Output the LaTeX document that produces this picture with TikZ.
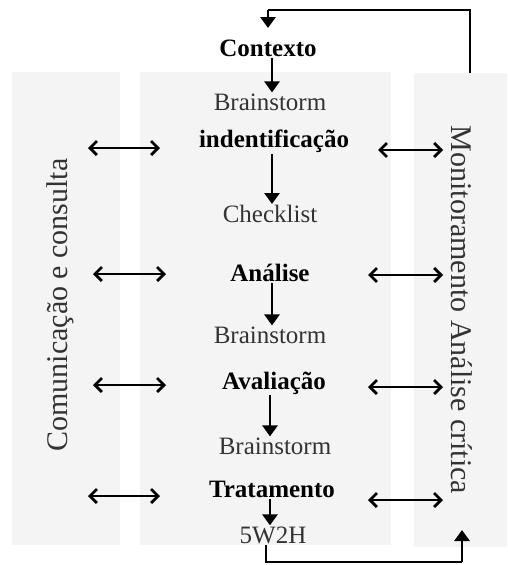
\documentclass[tikz,border=0pt]{standalone}
\usepackage{fontspec}
\setmainfont{Liberation Serif}
\usetikzlibrary{positioning,calc,arrows.meta}
\definecolor{panelgray}{HTML}{F4F4F4}
\newcommand{\stepnode}[3]{\node [stepname] (#1) at (#2) {#3}}
\newcommand{\toolnode}[3]{\node [toolname] (#1) at (#2) {#3}}

\begin{document}
\begin{tikzpicture}[x=1pt,y=-1pt,
  panel/.style={fill=panelgray, draw=none},
  stepname/.style={font=\fontsize{25}{30}\selectfont\bfseries, inner sep=1pt},
  toolname/.style={font=\fontsize{25}{30}\selectfont, text=black!80, inner sep=1pt},
  sidename/.style={font=\fontsize{30}{36}\selectfont, text=black!80, inner sep=1pt},
  down/.style={-{Triangle[length=11pt,width=15pt]}, line width=2.8pt},
  both/.style={{Straight Barb[length=7pt,width=14pt]}-{Straight Barb[length=7pt,width=14pt]}, line width=2.8pt}]
\useasboundingbox (0,0) rectangle (507,565);

% panels
\fill[panel] (12,72) rectangle (120,545);
\fill[panel] (140,72) rectangle (391,545);
\fill[panel] (414,73) rectangle (507,547);

% side texts
\node [sidename, rotate=90] (COM) at (60,305) {Comunicação e consulta};
\node [sidename, rotate=-90] (MON) at (462,310) {Monitoramento Análise crítica};

% steps and tools
\stepnode{CTX}{268,48}{Contexto};
\toolnode{BS1}{270,102}{Brainstorm};
\stepnode{IDT}{274,141}{indentificação};
\toolnode{CHK}{270,214}{Checklist};
\stepnode{ANA}{270,273}{Análise};
\toolnode{BS2}{270,335}{Brainstorm};
\stepnode{AVA}{274,383}{Avaliação};
\toolnode{BS3}{275,446}{Brainstorm};
\stepnode{TRT}{272,489}{Tratamento};
\toolnode{W2H}{273,535}{5W2H};

\coordinate (TOP) at (268,10);
\coordinate (TOPR) at (470,10);
\coordinate (RTOP) at (470,73);
\coordinate (CIN) at (268,28);
\coordinate (BOT) at (266,562);
\coordinate (BOTR) at (462,562);
\coordinate (RBOT) at (462,530);

\draw[down] (CTX.south -| 272,0) -- (BS1.north -| 272,0);
\draw[down] (IDT.south -| 272,0) -- (CHK.north -| 272,0);
\draw[down] (ANA.south -| 272,0) -- (BS2.north -| 272,0);
\draw[down] (AVA.south -| 270,0) -- (BS3.north -| 270,0);
\draw[down] (TRT.south -| 270,0) -- (W2H.north -| 270,0);

% feedback loop
\draw[line width=2.8pt] (RTOP) -- (TOPR) -- (TOP);
\draw[down] (TOP) -- (CIN);
\draw[line width=2.8pt] (W2H.south -| BOT) -- (BOT) -- (BOTR);
\draw[down] (BOTR) -- (RBOT);

% links to the side panels
\foreach \y/\a/\b in {148/88/160, 274/93/166, 385/93/166, 496/88/160}
  \draw[both] (\a,\y) -- (\b,\y);
\foreach \y/\a in {150/378, 275/368, 387/368, 500/368}
  \draw[both] (\a,\y) -- (443,\y);

\end{tikzpicture}
\end{document}
